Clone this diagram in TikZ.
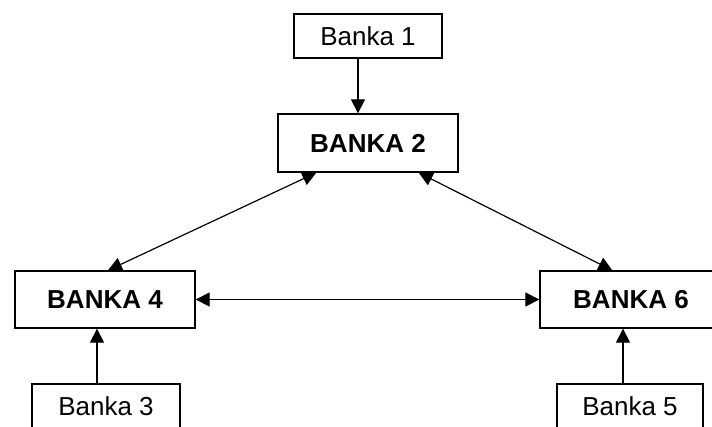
\documentclass[tikz,border=0pt]{standalone}
\usepackage{fontspec}
\setmainfont{Liberation Sans}
\usetikzlibrary{arrows.meta}
\begin{document}
\begin{tikzpicture}[x=1pt,y=-1pt,
  bankbox/.style={draw=black,line width=1.3pt,fill=white,inner sep=0pt,anchor=center,font=\fontsize{26}{30}\selectfont},
  bigbox/.style={bankbox,font=\fontsize{26}{30}\selectfont\bfseries},
  conn/.style={line width=1.2pt,-{Triangle[length=14pt,width=14pt]}},
  bconn/.style={line width=1.2pt,{Triangle[length=14pt,width=14pt]}-{Triangle[length=14pt,width=14pt]}}]
\useasboundingbox (0,0) rectangle (712,426);
\clip (0,0) rectangle (712,426);
\fill[white] (0,0) rectangle (712,426);
\node[bankbox,minimum width=148pt,minimum height=44pt] (b1) at (368,36) {Banka 1};
\node[bigbox,minimum width=180pt,minimum height=58pt] (b2) at (368,143) {BANKA 2};
\node[bigbox,minimum width=180pt,minimum height=57pt] (b4) at (105,299.5) {BANKA 4};
\node[bigbox,minimum width=182pt,minimum height=57pt] (b6) at (631,299.5) {BANKA 6};
\node[bankbox,minimum width=148pt,minimum height=44pt] (b3) at (106,406) {Banka 3};
\node[bankbox,minimum width=146pt,minimum height=44pt] (b5) at (630,406) {Banka 5};
\draw[conn] ([xshift=-10pt]b1.south) -- ([xshift=-10pt]b1.south |- b2.north);
\draw[conn] ([xshift=-9pt]b3.north) -- ([xshift=-9pt]b3.north |- b4.south);
\draw[conn] ([xshift=-7pt]b5.north) -- ([xshift=-7pt]b5.north |- b6.south);
\draw[bconn] (b4.east) -- (b6.west);
\draw[bconn] ([xshift=3pt]b4.north) -- ([xshift=39pt]b2.south west);
\draw[bconn] ([xshift=73pt]b6.north west) -- ([xshift=-40pt]b2.south east);
\end{tikzpicture}
\end{document}
